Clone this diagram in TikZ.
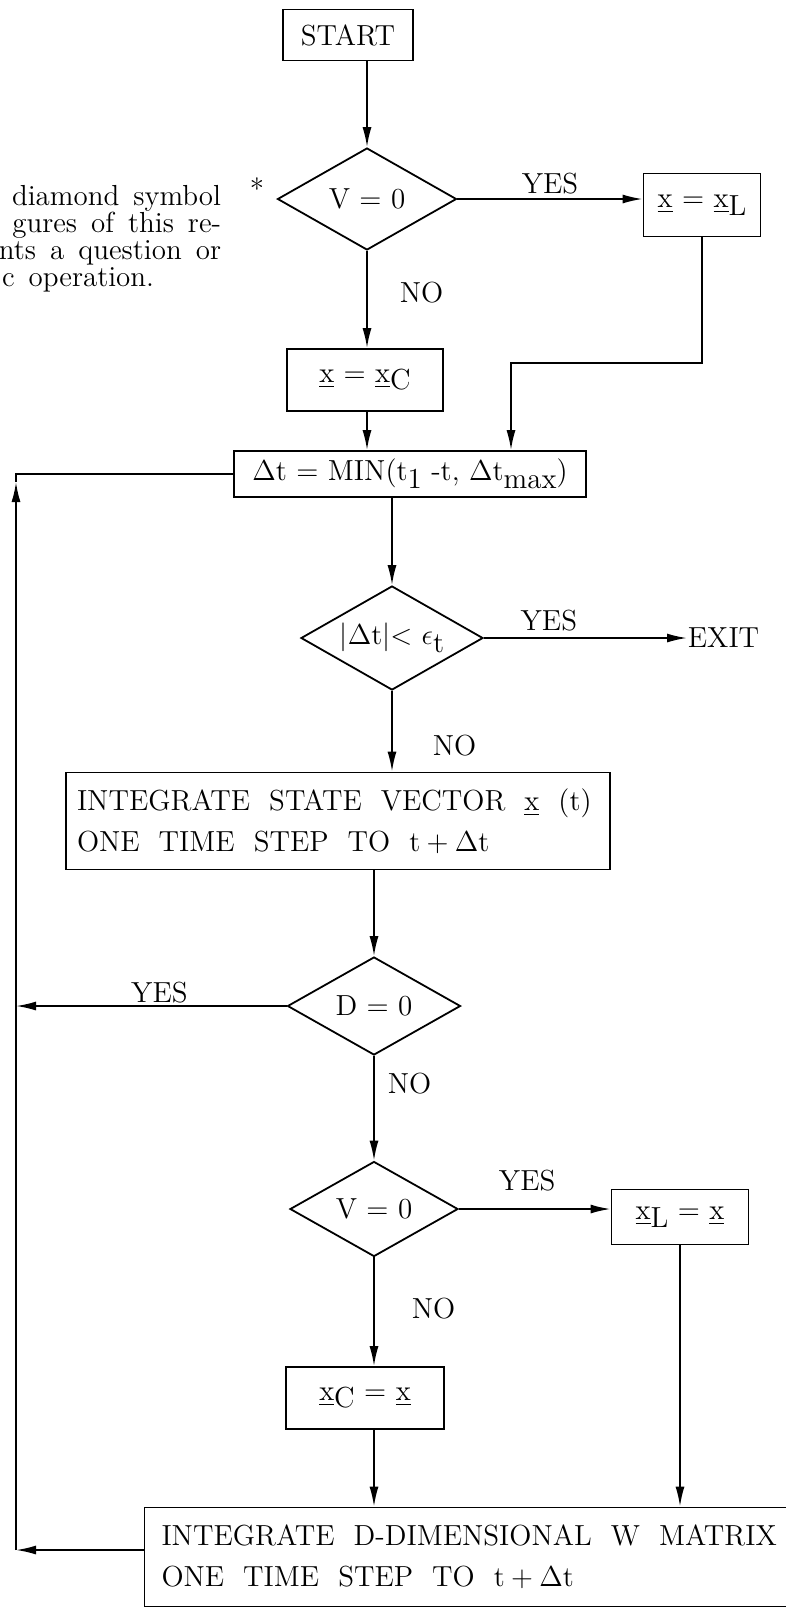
\documentclass[tikz,border=0pt]{standalone}
\usepackage{amsmath}
\usepackage{amssymb}
\usetikzlibrary{shapes.geometric,arrows.meta}

\newcommand{\ux}{\underline{x}}
\newcommand{\lowr}[1]{\raisebox{-0.6ex}{#1}}
\newcommand{\widesp}{\spaceskip=9.5pt plus 1pt\relax}
\newcommand{\notesp}{\spaceskip=7pt plus 1pt\relax}

\begin{document}
\begin{tikzpicture}[x=0.5pt,y=-0.5pt,line width=0.9pt,
  every node/.style={font=\fontsize{14.5}{20.5}\selectfont},
  wide/.style={execute at begin node=\widesp},
  note/.style={execute at begin node=\notesp,inner sep=0pt,anchor=base east},
  box/.style={draw,rectangle,inner sep=0pt},
  decision/.style={draw,diamond,aspect=1.75,inner sep=0pt},
  lbl/.style={inner sep=0pt},
  arr/.style={-{Latex[length=10pt,width=4.5pt]}}]
\useasboundingbox (0,0) rectangle (786,1608);
\clip (0,0) rectangle (786,1608);
% note at the left edge:
\node[note] (note1) at (222,205) {diamond symbol};
\node[note] (note2) at (222,232) {gures of this re-};
\node[note] (note3) at (222,259) {nts a question or};
\node[note] (note4) at (155,286) {c operation.};
\node[lbl,anchor=base] (star) at (257,199) {*};
% boxes and decisions:
\node[box,minimum width=65pt,minimum height=25.5pt] (start) at (348,35) {START};
\node[decision,minimum width=89.5pt,minimum height=51pt] (v1) at (367,199) {V = 0};
\node[box,minimum width=58.5pt,minimum height=31.5pt] (xl1) at (702,205) {\ux{} = \ux\lowr{L}};
\node[box,minimum width=78pt,minimum height=31pt] (xc1) at (365,380) {\ux{} = \ux\lowr{C}};
\node[box,minimum width=176pt,minimum height=23pt] (dt) at (410,474) {$\Delta$t = MIN(t\lowr{1} -t, $\Delta$t\lowr{max})};
\node[decision,minimum width=91pt,minimum height=52pt] (d2) at (392,638) {$|\Delta\mathrm{t}|{<}$ $\epsilon$\lowr{t}};
\node[lbl,anchor=west] (exit) at (687,638) {EXIT};
\node[box,wide,align=left,text width=261pt,inner xsep=5.5pt,minimum height=48.5pt] (integ) at (338,821)
  {INTEGRATE STATE VECTOR \ux{} (t)\\ONE TIME STEP TO $\mathrm{t}+\Delta\mathrm{t}$};
\node[decision,minimum width=86.5pt,minimum height=49pt] (d0) at (374,1006) {D = 0};
\node[decision,minimum width=84pt,minimum height=47.5pt] (v2) at (374,1209) {V = 0};
\node[box,minimum width=68.5pt,minimum height=27.5pt] (xl2) at (680,1217) {\ux\lowr{L} = \ux};
\node[box,minimum width=79pt,minimum height=31pt] (xc2) at (365,1398) {\ux\lowr{C} = \ux};
\node[box,wide,align=left,text width=320.5pt,inner xsep=8.5pt,minimum height=49.5pt] (fin) at (482,1557)
  {INTEGRATE D-DIMENSIONAL W MATRIX\\ONE TIME STEP TO $\mathrm{t}+\Delta\mathrm{t}$};
% connectors:
\coordinate (jn) at (511,363);
\coordinate (lpb) at (16,1550);
\coordinate (lpa) at (16,482);
\draw[arr] (v1.north |- start.south) -- (v1.north);
\draw[arr] (v1.east) -- (v1.east -| xl1.west) node[lbl,above=2.2pt,midway] (yes1) {YES};
\draw[arr] (v1.south) -- (v1.south |- xc1.north) node[lbl,right=16pt,pos=0.43] (no1) {NO};
\draw[arr] (v1.south |- xc1.south) -- (v1.south |- dt.north);
\draw[arr] (xl1.south) |- (jn) -- (jn |- dt.north);
\draw[arr] (d2.north |- dt.south) -- (d2.north);
\draw[arr] (d2.east) -- (exit.west) node[lbl,above=3.2pt,pos=0.32] (yes2) {YES};
\draw[arr] (d2.south) -- (d2.south |- integ.north) node[lbl,right=20pt,pos=0.68] (no2) {NO};
\draw[arr] (d0.north |- integ.south) -- (d0.north);
\draw[arr] (d0.west) -- (d0.west -| lpb) node[lbl,above=1.2pt,pos=0.47] (yes3) {YES};
\draw[arr] (d0.south) -- (v2.north) node[lbl,right=6.5pt,pos=0.26] (no3) {NO};
\draw[arr] (v2.east) -- (v2.east -| xl2.west) node[lbl,above=8.7pt,pos=0.45] (yes4) {YES};
\draw[arr] (v2.south) -- (v2.south |- xc2.north) node[lbl,right=18.5pt,pos=0.47] (no4) {NO};
\draw[arr] (v2.south |- xc2.south) -- (v2.south |- fin.north);
\draw[arr] (xl2.south) -- (xl2.south |- fin.north);
\draw[arr] (fin.west |- lpb) -- (lpb);
\draw[arr] (lpb) -- (lpa);
\draw (lpa) |- (dt.west);
\end{tikzpicture}
\end{document}
